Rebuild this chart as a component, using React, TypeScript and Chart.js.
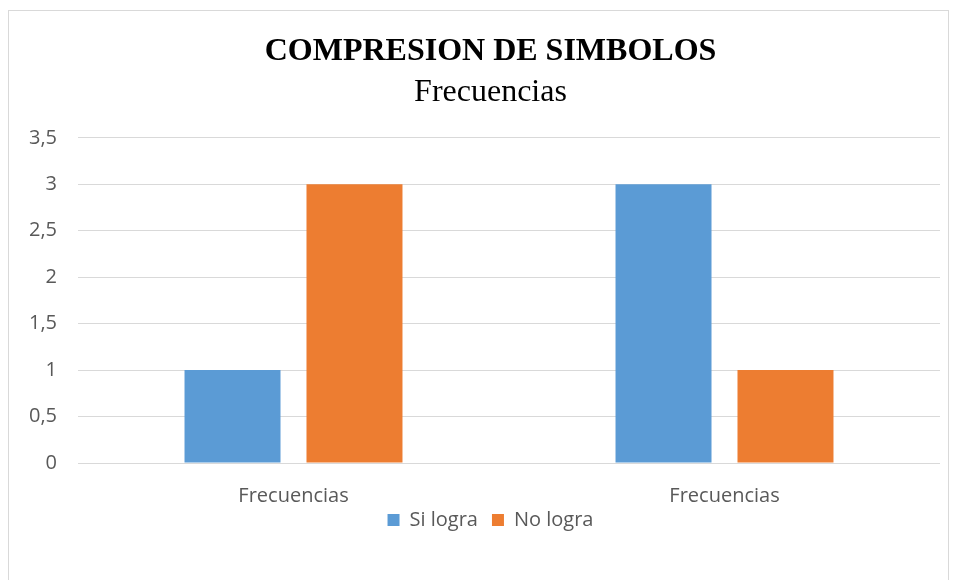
import React, { useEffect, useRef } from "react";
import { Chart, registerables } from "chart.js";

Chart.register(...registerables);

const categories = ["Frecuencias", "Frecuencias"];
const siLogra = [1, 3];
const noLogra = [3, 1];
const seriesNames = ["Si logra", "No logra"];
const titleText = "COMPRESION DE SIMBOLOS";
const subtitleText = "Frecuencias";

const shiftBlocks = {
  id: "shiftBlocks",
  afterLayout(chart: any) {
    chart.boxes.forEach((b: any) => {
      if (!b.axis && (b.position === "top" || b.position === "bottom")) {
        b.left += 16;
        b.right += 16;
      }
      if (b === chart.legend) {
        b.top -= 11;
        b.bottom -= 11;
      }
    });
  },
};

export default function App() {
  const ref = useRef<HTMLCanvasElement | null>(null);
  useEffect(() => {
    if (!ref.current) return;
    const chart = new Chart(ref.current, {
      type: "bar",
      data: {
        labels: categories,
        datasets: [
          { label: seriesNames[0], data: siLogra, backgroundColor: "#5B9BD5", categoryPercentage: 0.566, barPercentage: 0.787 },
          { label: seriesNames[1], data: noLogra, backgroundColor: "#ED7D31", categoryPercentage: 0.566, barPercentage: 0.787 },
        ],
      },
      plugins: [shiftBlocks],
      options: {
        animation: false,
        responsive: false,
        layout: { padding: { left: 0, right: 8, top: 0, bottom: 35 } },
        plugins: {
          title: {
            display: true,
            text: titleText,
            color: "#000000",
            font: { family: "'Liberation Serif', 'Times New Roman', serif", size: 32, weight: "bold", lineHeight: 1.2 },
            padding: { top: 22, bottom: 2 },
          },
          subtitle: {
            display: true,
            text: subtitleText,
            color: "#000000",
            font: { family: "'Liberation Serif', 'Times New Roman', serif", size: 32, weight: "normal", lineHeight: 1.2 },
            padding: { top: 0, bottom: 26 },
          },
          legend: {
            position: "bottom",
            labels: {
              boxWidth: 12,
              boxHeight: 12,
              color: "#595959",
              font: { family: "'Open Sans', sans-serif", size: 20 },
              padding: 14,
            },
          },
          tooltip: { enabled: false },
        },
        scales: {
          x: {
            afterFit: (s: any) => { s.height = 44; },
            grid: { display: false, drawTicks: false },
            border: { display: false },
            ticks: { color: "#595959", font: { family: "'Open Sans', sans-serif", size: 20 }, padding: 21 },
          },
          y: {
            min: 0,
            max: 3.5,
            afterFit: (s: any) => { s.width = 69; },
            ticks: {
              stepSize: 0.5,
              color: "#595959",
              padding: 21,
              font: { family: "'Open Sans', sans-serif", size: 20 },
              callback: (v: any) => String(v).replace(".", ","),
            },
            grid: { color: "#D9D9D9", drawTicks: false },
            border: { display: false },
          },
        },
      },
    });
    return () => chart.destroy();
  }, []);
  return (
    <div style={{ marginTop: 2, width: 941, height: 580, border: "1px solid #D9D9D9", boxSizing: "border-box", overflow: "hidden" }}>
      <canvas ref={ref} width={939} height={575} />
    </div>
  );
}
